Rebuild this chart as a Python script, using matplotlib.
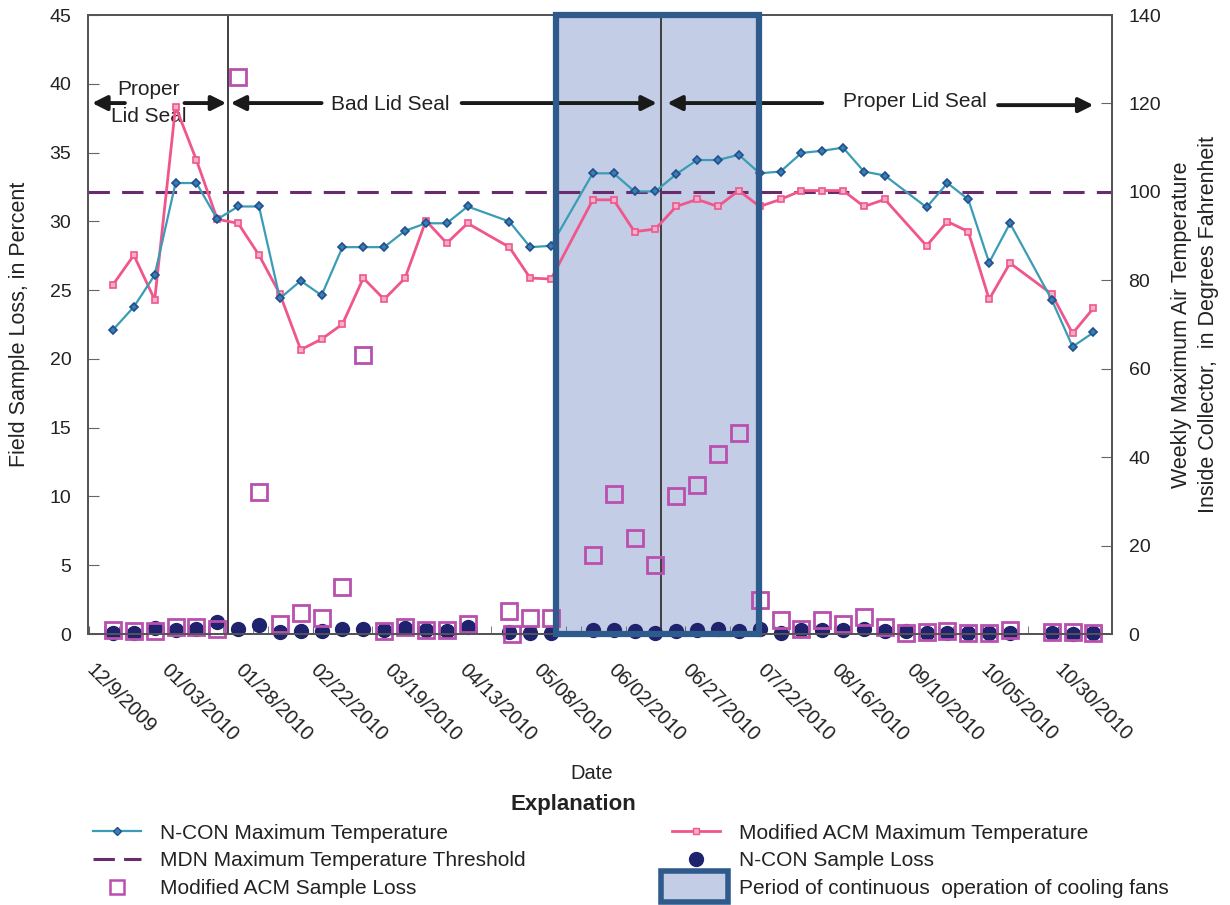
import matplotlib
matplotlib.use('Agg')
import matplotlib.pyplot as plt
import matplotlib.dates as mdates
from matplotlib.patches import Rectangle, Patch
from matplotlib.lines import Line2D
from matplotlib.legend_handler import HandlerPatch
import numpy as np
import pandas as pd

plt.rcParams['font.family'] = ['Liberation Sans', 'DejaVu Sans']

# weekly maximum temperatures (deg F)
temp_dates = ['2009-12-17', '2009-12-24', '2009-12-31', '2010-01-07', '2010-01-14', '2010-01-21',
              '2010-01-28', '2010-02-04', '2010-02-11', '2010-02-18', '2010-02-25', '2010-03-04',
              '2010-03-11', '2010-03-18', '2010-03-25', '2010-04-01', '2010-04-08', '2010-04-15',
              '2010-04-29', '2010-05-06', '2010-05-13', '2010-05-27', '2010-06-03', '2010-06-10',
              '2010-06-17', '2010-06-24', '2010-07-01', '2010-07-08', '2010-07-15', '2010-07-22',
              '2010-07-29', '2010-08-05', '2010-08-12', '2010-08-19', '2010-08-26', '2010-09-02',
              '2010-09-16', '2010-09-23', '2010-09-30', '2010-10-07', '2010-10-14', '2010-10-28',
              '2010-11-04', '2010-11-11']
ncon_temp = [68.8, 74.0, 81.2, 102.0, 102.0, 93.8, 96.7, 96.7, 75.9, 79.9, 76.6, 87.5,
             87.5, 87.5, 91.2, 92.9, 92.9, 96.7, 93.3, 87.5, 87.8, 104.2, 104.2, 100.1,
             100.1, 104.0, 107.2, 107.2, 108.4, 104.2, 104.6, 108.8, 109.3, 110.0, 104.6, 103.7,
             96.5, 102.0, 98.3, 84.0, 92.9, 75.6, 65.0, 68.2]
acm_temp = [79.0, 85.7, 75.6, 119.3, 107.2, 93.8, 92.9, 85.7, 76.9, 64.3, 66.7, 70.1,
            80.5, 75.7, 80.5, 93.5, 88.4, 92.9, 87.5, 80.5, 80.3, 98.2, 98.2, 91.0,
            91.6, 96.7, 98.3, 96.7, 100.3, 96.7, 98.3, 100.3, 100.3, 100.3, 96.7, 98.3,
            87.8, 93.3, 91.0, 75.7, 83.9, 76.9, 68.0, 73.7]
threshold_temp = 100

# weekly field sample loss (percent)
loss_dates = ['2009-12-17', '2009-12-24', '2009-12-31', '2010-01-07', '2010-01-14', '2010-01-21',
              '2010-01-28', '2010-02-04', '2010-02-11', '2010-02-18', '2010-02-25', '2010-03-04',
              '2010-03-11', '2010-03-18', '2010-03-25', '2010-04-01', '2010-04-08', '2010-04-15',
              '2010-04-29', '2010-04-30', '2010-05-06', '2010-05-13', '2010-05-27', '2010-06-03',
              '2010-06-10', '2010-06-17', '2010-06-24', '2010-07-01', '2010-07-08', '2010-07-15',
              '2010-07-22', '2010-07-29', '2010-08-05', '2010-08-12', '2010-08-19', '2010-08-26',
              '2010-09-02', '2010-09-09', '2010-09-16', '2010-09-23', '2010-09-30', '2010-10-07',
              '2010-10-14', '2010-10-28', '2010-11-04', '2010-11-11']
acm_loss = [0.3, 0.2, 0.2, 0.5, 0.5, 0.35, 40.5, 10.3, 0.7, 1.55, 1.2, 3.4,
            20.3, 0.2, 0.5, 0.3, 0.3, 0.7, 1.7, 0.0, 1.2, 1.15, 5.75, 10.2,
            7.0, 5.0, 10.0, 10.8, 13.1, 14.6, 2.5, 1.0, 0.4, 1.0, 0.75, 1.25,
            0.5, 0.05, 0.15, 0.25, 0.05, 0.1, 0.3, 0.15, 0.15, 0.1]
ncon_loss = [0.05, 0.1, 0.45, 0.3, 0.35, 0.9, 0.35, 0.65, 0.15, 0.25, 0.25, 0.4,
             0.35, 0.3, 0.45, 0.3, 0.2, 0.5, 0.15, np.nan, 0.1, 0.1, 0.3, 0.3,
             0.2, 0.1, 0.2, 0.3, 0.4, 0.2, 0.4, 0.1, 0.3, 0.3, 0.3, 0.35,
             0.2, 0.2, 0.1, 0.1, 0.1, 0.1, 0.1, 0.1, 0.0, 0.1]

tick_labels = ['12/9/2009', '01/03/2010', '01/28/2010', '02/22/2010', '03/19/2010', '04/13/2010',
               '05/08/2010', '06/02/2010', '06/27/2010', '07/22/2010', '08/16/2010', '09/10/2010',
               '10/05/2010', '10/30/2010']

seal_changes = ['2010-01-24 14:00', '2010-06-19 00:00']
fan_period = ('2010-05-14 12:00', '2010-07-21 19:00')


def d(s):
    return mdates.date2num(pd.Timestamp(s))


C_NCON = '#3a9cb5'
C_NCON_MK = '#1f4f8f'
C_ACM = '#f0568c'
C_THR = '#6a2a6e'
C_ACM_LOSS = '#b94fae'
C_NCON_LOSS = '#1f236e'
C_BOX = '#c3cde6'
C_BOX_EDGE = '#2f5b8c'
C_TXT = '#222222'

fig = plt.figure(figsize=(12.3, 9.05), dpi=100)
ax = fig.add_axes([0.0715, 0.2994, 0.8325, 0.684])
ax2 = ax.twinx()

x0 = d('2009-12-09')
ax.set_xlim(x0 - 0.4, x0 + 343.2)
ax.set_ylim(0, 45)
ax2.set_ylim(0, 140)

# cooling fan period
fb, fe = d(fan_period[0]), d(fan_period[1])
ax.add_patch(Rectangle((fb, 0), fe - fb, 45, facecolor=C_BOX, edgecolor='none', zorder=0))
ax2.add_patch(Rectangle((fb, 0), fe - fb, 140, facecolor='none', edgecolor=C_BOX_EDGE,
                        linewidth=4.5, zorder=4, clip_on=False))

for s in seal_changes:
    ax.axvline(d(s), color='#333333', linewidth=1.3, zorder=1)

# sample loss
ld = [d(s) for s in loss_dates]
ax.plot(ld, ncon_loss, 'o', color=C_NCON_LOSS, markersize=10, zorder=3, clip_on=False)
ax.plot(ld, acm_loss, 's', markerfacecolor='none', markeredgecolor=C_ACM_LOSS,
        markeredgewidth=2, markersize=11, zorder=3, clip_on=False)

# temperatures
td = [d(s) for s in temp_dates]
ax2.axhline(threshold_temp, color=C_THR, linestyle=(0, (7, 4)), linewidth=2.2, zorder=2)
ax2.plot(td, acm_temp, '-s', color=C_ACM, linewidth=2, markersize=5,
         markerfacecolor='#f7b0c8', markeredgecolor=C_ACM, markeredgewidth=1.2, zorder=3)
ax2.plot(td, ncon_temp, '-D', color=C_NCON, linewidth=1.6, markersize=4.5,
         markerfacecolor='#3a7fb0', markeredgecolor=C_NCON_MK, markeredgewidth=1.2, zorder=3)

# ticks
ax.set_xticks([x0 + 25 * i for i in range(len(tick_labels))])
ax.set_xticks(np.arange(x0, x0 + 343, 5), minor=True)
ax.set_xticklabels(tick_labels, rotation=-45, ha='left', va='center', rotation_mode='anchor',
                   fontsize=14.5, color=C_TXT)
ax.set_yticks(range(0, 46, 5))
ax2.set_yticks(range(0, 141, 20))
ax.tick_params(axis='x', which='both', direction='in', length=6, color='#666666', pad=24)
ax.tick_params(axis='y', direction='in', length=8, color='#666666', labelsize=14,
               labelcolor=C_TXT, pad=12)
ax2.tick_params(axis='y', direction='in', length=8, color='#666666', labelsize=14,
                labelcolor=C_TXT, pad=12)
for a in (ax, ax2):
    for sp in a.spines.values():
        sp.set_color('#555555')
        sp.set_linewidth(1.4)

ax.set_ylabel('Field Sample Loss, in Percent', fontsize=15.5, color=C_TXT, labelpad=14)
ax2.set_ylabel('Weekly Maximum Air Temperature\nInside Collector,  in Degrees Fahrenheit',
               fontsize=15.5, color=C_TXT, labelpad=7, linespacing=1.4)

# lid seal annotations
ax.text(d('2009-12-29'), 38.6, 'Proper\nLid Seal', ha='center', va='center', fontsize=15,
        color=C_TXT, linespacing=1.55)
ax.text(d('2010-03-20'), 38.5, 'Bad Lid Seal', ha='center', va='center', fontsize=15, color=C_TXT)
ax.text(d('2010-09-12'), 38.7, 'Proper Lid Seal', ha='center', va='center', fontsize=15, color=C_TXT)
arrow = dict(arrowstyle='-|>', color='#1a1a1a', lw=2.8, mutation_scale=22, shrinkA=0, shrinkB=0)
arrows = [('2009-12-21', '2009-12-10', 38.6), ('2010-01-10', '2010-01-24', 38.6),
          ('2010-02-25', '2010-01-25 12:00', 38.6), ('2010-04-13', '2010-06-17 12:00', 38.6),
          ('2010-08-12', '2010-06-21', 38.6), ('2010-10-10', '2010-11-11', 38.45)]
for tail, head, yv in arrows:
    ax.annotate('', xy=(d(head), yv), xytext=(d(tail), yv), arrowprops=arrow)

fig.text(592 / 1230, 1 - 773 / 905, 'Date', ha='center', va='center', fontsize=14.5, color=C_TXT)
fig.text(573 / 1230, 1 - 804 / 905, 'Explanation', ha='center', va='center', fontsize=16,
         fontweight='bold', color=C_TXT)


def big_box(legend, orig_handle, xdescent, ydescent, width, height, fontsize):
    return Rectangle((-xdescent - 8, -ydescent - 6), width + 14, height + 12)


handles = [
    Line2D([], [], color=C_NCON, linewidth=1.6, marker='D', markersize=4.5,
           markerfacecolor='#3a7fb0', markeredgecolor=C_NCON_MK),
    Line2D([], [], color=C_THR, linestyle=(0, (7, 3)), linewidth=2.2),
    Line2D([], [], linestyle='none', marker='s', markersize=10, markerfacecolor='none',
           markeredgecolor=C_ACM_LOSS, markeredgewidth=1.8),
    Line2D([], [], color=C_ACM, linewidth=2, marker='s', markersize=5,
           markerfacecolor='#f7b0c8', markeredgecolor=C_ACM),
    Line2D([], [], linestyle='none', marker='o', markersize=10, color=C_NCON_LOSS),
    Patch(facecolor=C_BOX, edgecolor=C_BOX_EDGE, linewidth=4),
]
labels = ['N-CON Maximum Temperature', 'MDN Maximum Temperature Threshold',
          'Modified ACM Sample Loss', 'Modified ACM Maximum Temperature',
          'N-CON Sample Loss', 'Period of continuous  operation of cooling fans']
leg = fig.legend(handles, labels, ncol=2, loc='upper left', bbox_to_anchor=(78 / 1230, 1 - 809 / 905),
                 frameon=False, fontsize=15, handlelength=2.3, handletextpad=0.95,
                 labelspacing=0.42, columnspacing=7.0, borderpad=0.2,
                 handler_map={Patch: HandlerPatch(patch_func=big_box)})
for t in leg.get_texts():
    t.set_color(C_TXT)

fig.savefig('out.png', dpi=100)
